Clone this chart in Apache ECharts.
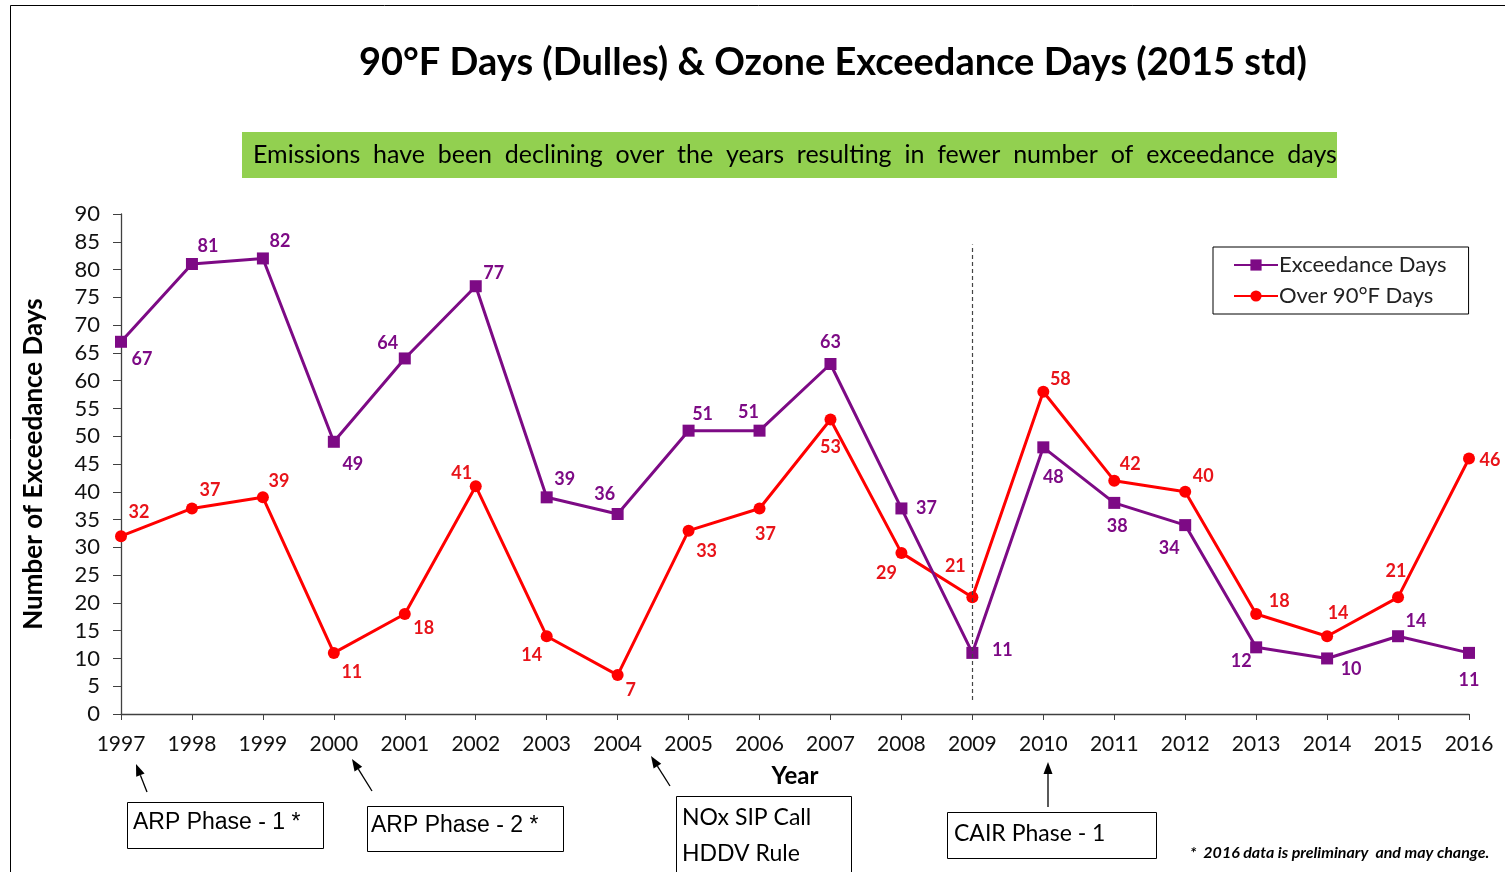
<!DOCTYPE html>
<html>
<head>
<meta charset="utf-8">
<script src="https://cdn.jsdelivr.net/npm/echarts@6/dist/echarts.min.js"></script>
<style>
  html, body { margin: 0; padding: 0; background: #fff; }
  #chart { width: 1505px; height: 872px; }
</style>
</head>
<body>
<div id="chart"></div>
<script>
// data
const years = ['1997','1998','1999','2000','2001','2002','2003','2004','2005','2006',
               '2007','2008','2009','2010','2011','2012','2013','2014','2015','2016'];
const exceedanceDays = [67, 81, 82, 49, 64, 77, 39, 36, 51, 51, 63, 37, 11, 48, 38, 34, 12, 10, 14, 11];
const over90Days     = [32, 37, 39, 11, 18, 41, 14,  7, 33, 37, 53, 29, 21, 58, 42, 40, 18, 14, 21, 46];
const yTicks = [0, 5, 10, 15, 20, 25, 30, 35, 40, 45, 50, 55, 60, 65, 70, 75, 80, 85, 90];

// label offsets (px) for each point, so labels sit like in the original
const exLabelOff = [[21,17],[16,-18],[17,-17],[19,22],[-17,-15],[18,-13],[18,-18],[-13,-20],[14,-16],[-11,-18],
                    [0,-22],[25,0],[30,-3],[10,30],[3,23],[-16,23],[-15,14],[24,11],[18,-15],[0,27]];
const hotLabelOff = [[18,-24],[18,-18],[16,-16],[18,19],[19,14],[-14,-13],[-15,19],[13,15],[18,21],[6,26],
                     [0,28],[-15,20],[-17,-31],[17,-13],[16,-16],[18,-16],[23,-13],[11,-23],[-2,-26],[21,2]];

const PURPLE = '#7D0A85';
const RED = '#FF0000';
const RED_TXT = '#E8141A';
const FONT = 'Lato, "Open Sans", sans-serif';

function withLabels(values, offs, color) {
    return values.map(function (v, i) {
        return {
            value: v,
            label: {
                show: true,
                position: 'inside',
                offset: offs[i],
                color: color,
                fontWeight: 'bold',
                fontSize: 18,
                fontFamily: FONT
            }
        };
    });
}

// arrow helper: line from tail to tip plus a small filled head
function arrow(x1, y1, x2, y2) {
    const dx = x2 - x1, dy = y2 - y1;
    const len = Math.sqrt(dx * dx + dy * dy);
    const ux = dx / len, uy = dy / len;
    const bx = x2 - ux * 12, by = y2 - uy * 12;
    const px = -uy * 4.5, py = ux * 4.5;
    return [
        { type: 'line', shape: { x1: x1, y1: y1, x2: bx, y2: by }, style: { stroke: '#000', lineWidth: 1.3 } },
        { type: 'polygon', shape: { points: [[x2, y2], [bx + px, by + py], [bx - px, by - py]] }, style: { fill: '#000' } }
    ];
}

function box(x, y, w, h) {
    return { type: 'rect', shape: { x: x, y: y, width: w, height: h },
             style: { fill: '#fff', stroke: '#000', lineWidth: 1 } };
}

function txt(x, y, s, size, font, extra) {
    return { type: 'text', x: x, y: y,
             style: Object.assign({ text: s, fontSize: size, fontFamily: font, fill: '#000',
                                    textVerticalAlign: 'middle' }, extra || {}) };
}

const chart = echarts.init(document.getElementById('chart'));

let graphics = [
    // outer frame
    { type: 'rect', shape: { x: 10.5, y: 5.5, width: 1600, height: 1000 }, style: { fill: 'none', stroke: '#000', lineWidth: 1 }, z: 0 },
    // green banner
    { type: 'rect', shape: { x: 242, y: 132, width: 1095, height: 46 }, style: { fill: '#92D050' } },
    txt(253, 155, 'Emissions  have  been  declining  over  the  years  resulting  in  fewer  number  of  exceedance  days', 25, FONT),
    // annotation boxes
    box(127.5, 802.5, 196, 46),
    txt(133, 823, 'ARP Phase - 1 *', 23, '"Liberation Sans", Arial, sans-serif'),
    box(367.5, 806.5, 196, 45),
    txt(371, 826, 'ARP Phase - 2 *', 23, '"Liberation Sans", Arial, sans-serif'),
    box(676.5, 796.5, 175, 90),
    txt(682, 818, 'NOx SIP Call', 23, FONT),
    txt(682, 854, 'HDDV Rule', 23, FONT),
    box(947.5, 812.5, 209, 46),
    txt(954, 834, 'CAIR Phase - 1', 23, FONT),
    txt(1190, 853, '*  2016 data is preliminary  and may change.', 16, FONT, { fontStyle: 'italic', fontWeight: 'bold' })
];
graphics = graphics
    .concat(arrow(147, 792, 136, 764))
    .concat(arrow(372, 791, 352, 759))
    .concat(arrow(670, 786, 651, 756))
    .concat(arrow(1048, 807, 1048, 762));

const option = {
    animation: false,
    textStyle: { fontFamily: FONT },
    title: {
        text: '90°F Days (Dulles) & Ozone Exceedance Days (2015 std)',
        left: 828,
        top: 39,
        textAlign: 'center',
        textStyle: { fontSize: 38, fontWeight: 'bold', color: '#000', fontFamily: FONT }
    },
    legend: {
        orient: 'vertical',
        left: 1213,
        top: 247,
        padding: [7, 22, 7, 20],
        itemGap: 9,
        itemWidth: 44,
        itemHeight: 14,
        borderColor: '#000',
        borderWidth: 1,
        textStyle: { fontSize: 22, color: '#222', fontFamily: FONT, padding: [0, 0, 0, -4] },
        data: ['Exceedance Days', 'Over 90°F Days']
    },
    grid: { left: 121, right: 36, top: 214, bottom: 158 },
    xAxis: {
        type: 'category',
        data: years,
        boundaryGap: false,
        name: 'Year',
        nameLocation: 'middle',
        nameGap: 50,
        nameTextStyle: { fontSize: 24, fontWeight: 'bold', color: '#000' },
        axisLine: { lineStyle: { color: '#404040', width: 1.3 } },
        axisTick: { show: true, alignWithLabel: true, length: 6, lineStyle: { color: '#404040' } },
        axisLabel: { fontSize: 21, color: '#111', margin: 20, interval: 0 }
    },
    yAxis: {
        type: 'value',
        min: 0,
        max: 90,
        interval: 5,
        name: 'Number of Exceedance Days',
        nameLocation: 'middle',
        nameGap: 74,
        nameTextStyle: { fontSize: 26, fontWeight: 'bold', color: '#000' },
        splitLine: { show: false },
        axisLine: { show: true, lineStyle: { color: '#404040', width: 1.3 } },
        axisTick: { show: true, length: 8, lineStyle: { color: '#404040' } },
        axisLabel: {
            fontSize: 22, color: '#111', margin: 21,
            formatter: function (v) { return yTicks.indexOf(v) >= 0 ? String(v) : ''; }
        }
    },
    series: [
        {
            name: 'Exceedance Days',
            type: 'line',
            data: withLabels(exceedanceDays, exLabelOff, PURPLE),
            symbol: 'rect',
            symbolSize: 12,
            color: PURPLE,
            lineStyle: { color: PURPLE, width: 3 },
            itemStyle: { color: PURPLE },
            z: 3,
            markLine: {
                silent: true,
                symbol: 'none',
                label: { show: false },
                lineStyle: { color: '#444', type: [4, 3], width: 1.2 },
                data: [[{ coord: ['2009', 2.5] }, { coord: ['2009', 84.5] }]]
            }
        },
        {
            name: 'Over 90°F Days',
            type: 'line',
            data: withLabels(over90Days, hotLabelOff, RED_TXT),
            symbol: 'circle',
            symbolSize: 12,
            color: RED,
            lineStyle: { color: RED, width: 3 },
            itemStyle: { color: RED },
            z: 2
        }
    ],
    graphic: graphics
};

chart.setOption(option);
</script>
</body>
</html>
